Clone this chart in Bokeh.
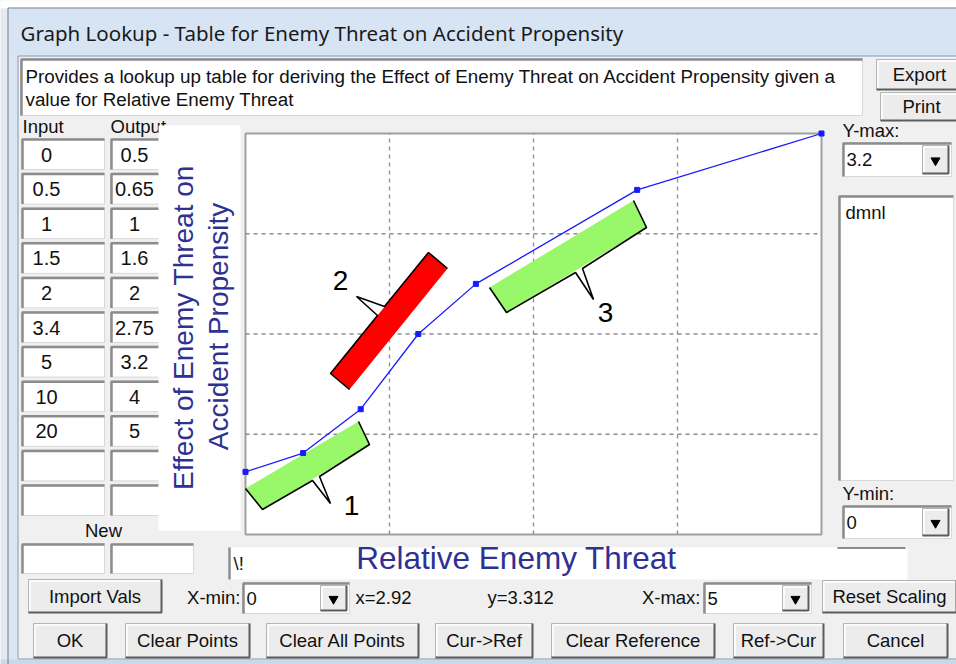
import numpy as np
from bokeh.plotting import figure
from bokeh.models import Range1d
from bokeh.core.properties import value
from bokeh.embed import file_html
from bokeh.resources import INLINE

# ---------------- data ----------------
inputs = [0, 0.5, 1, 1.5, 2, 3.4, 5, 10, 20]
outputs = [0.5, 0.65, 1, 1.6, 2, 2.75, 3.2, 4, 5]
x_min, x_max = 0, 5
y_min, y_max = 0, 3.2
cursor_x, cursor_y = 2.92, 3.312
units = "dmnl"
title = "Graph Lookup - Table for Enemy Threat on Accident Propensity"
description = ["Provides a lookup up table for deriving the Effect of Enemy Threat on Accident Propensity given a",
               "value for Relative Enemy Threat"]
x_label = "Relative Enemy Threat"
y_label = ["Effect of Enemy Threat on", "Accident Propensity"]
callout_labels = ["1", "2", "3"]
row2_buttons = ["OK", "Clear Points", "Clear All Points", "Cur->Ref", "Clear Reference", "Ref->Cur", "Cancel"]

def fmt(v):
    return ("%g" % v)

# ---------------- figure (pixel space of the dialog) ----------------
W, H = 956, 664
p = figure(width=W, height=H, x_range=Range1d(0, W), y_range=Range1d(H, 0),
           output_backend="svg", toolbar_location=None, min_border=0,
           x_axis_type=None, y_axis_type=None)
p.outline_line_color = None
p.background_fill_color = "#f0f0f0"
p.border_fill_color = "#ffffff"

# chart frame in dialog pixels
PL, PR, PT, PB = 245, 821, 133, 534
sx = (PR - PL) / (x_max - x_min)
sy = (PB - PT) / (y_max - y_min)
p.extra_x_ranges = {"cx": Range1d(x_min - PL / sx, x_max + (W - PR) / sx)}
p.extra_y_ranges = {"cy": Range1d(y_min - (H - PB) / sy, y_max + PT / sy)}

UI = "Liberation Sans"
FS = "18.5px"

def txt(x, y, s, size=FS, align="left", color="#111111", font=UI, angle=0.0, baseline="middle"):
    p.text(x=[x], y=[y], text=[s], text_font=value(font), text_font_size=size,
           text_align=align, text_baseline=baseline, text_color=color, angle=angle)

def sunken(x0, x1, y0, y1):
    p.quad(left=x0, right=x1, top=y0, bottom=y1, fill_color="white", line_color="#d8d8d8", line_width=1)
    p.line([x0 + 1, x0 + 1, x1], [y1, y0 + 1, y0 + 1], line_color="#8c8c8c", line_width=2.5)

def button(x0, x1, y0, y1, label=None, size=FS):
    p.quad(left=x0, right=x1, top=y0, bottom=y1, fill_color="#ececec", line_color="#b4b4b4", line_width=1)
    p.line([x0 + 1.5, x0 + 1.5, x1 - 1.5], [y1 - 1.5, y0 + 1.5, y0 + 1.5], line_color="white", line_width=1.5)
    p.line([x0, x1, x1], [y1, y1, y0], line_color="#5c5c5c", line_width=2)
    if label:
        txt((x0 + x1) / 2, (y0 + y1) / 2, label, size=size, align="center")

def combo(x0, x1, y0, y1, val):
    sunken(x0, x1, y0, y1)
    button(x1 - 29, x1 - 3, y0 + 3, y1 - 3)
    p.scatter([x1 - 16], [(y0 + y1) / 2 + 1], marker="inverted_triangle", size=9,
              fill_color="black", line_color="black")
    txt(x0 + 4, (y0 + y1) / 2, val)

# ---------------- window chrome ----------------
p.quad(left=0, right=W, top=0, bottom=8, fill_color="#ffffff", line_color=None)
p.quad(left=0, right=8, top=8, bottom=H, fill_color="#e3eaf2", line_color=None)
p.quad(left=8, right=W, top=8, bottom=56, fill_color="#d6e4f4", line_color=None)
p.quad(left=8, right=18, top=56, bottom=H, fill_color="#dbe6f2", line_color=None)
p.quad(left=0, right=W, top=659, bottom=H, fill_color="#c9d9ec", line_color=None)
p.line([7.5, 7.5, W], [H, 7.5, 7.5], line_color="#6f7b88", line_width=1)
p.line([17.5, 17.5, W], [658, 55.5, 55.5], line_color="#8a9bb0", line_width=1)
p.line([17.5, W], [658.5, 658.5], line_color="#8a9bb0", line_width=1)
txt(20, 32, title, size="20.5px", font="Noto Sans", color="#1a1a1a")

# description box
sunken(20, 862, 58, 115)
txt(25, 76, description[0], size="18.8px")
txt(25, 99, description[1], size="18.8px")
button(876, 962, 59, 89, "Export")
button(880, 962, 92, 120, "Print")

# ---------------- lookup table ----------------
txt(22, 126, "Input")
txt(110, 126, "Output")
for i in range(11):
    top = 138 + i * 34.6
    sunken(21, 104, top, top + 31)
    sunken(110, 193, top, top + 31)
    if i < len(inputs):
        txt(46, top + 16, fmt(inputs[i]), size="20px", align="center")
        txt(134, top + 16, fmt(outputs[i]), size="20px", align="center")
txt(103, 530, "New", align="center")
sunken(21, 104, 543, 573)
sunken(110, 193, 543, 573)

# y label panel
p.quad(left=158, right=240, top=125, bottom=530, fill_color="white", line_color=None)
AX = "#2e3192"
txt(183, 327, y_label[0], size="28px", align="center", color=AX, angle=np.pi / 2)
txt(218, 326, y_label[1], size="28px", align="center", color=AX, angle=np.pi / 2)

# ---------------- chart ----------------
p.quad(left=[x_min], right=[x_max], bottom=[y_min], top=[y_max], x_range_name="cx", y_range_name="cy",
       fill_color="white", line_color="#a0a0a0", line_width=2)
gx = np.linspace(x_min, x_max, 5)[1:-1]
gy = np.linspace(y_min, y_max, 5)[1:-1]
p.segment(x0=gx, x1=gx, y0=[y_min] * 3, y1=[y_max] * 3, x_range_name="cx", y_range_name="cy",
          line_color="#8c8c8c", line_dash="4 4", line_width=1.3)
p.segment(x0=[x_min] * 3, x1=[x_max] * 3, y0=gy, y1=gy, x_range_name="cx", y_range_name="cy",
          line_color="#8c8c8c", line_dash="4 4", line_width=1.3)

# callouts (decoration, dialog pixels)
callouts = [
    dict(front=[(245, 488), (358, 421)], back=[(262, 509), (369, 444)],
         spike=[(312, 480), (330, 503), (319, 476)], fill="#98f86a", label=(351, 505)),
    dict(front=[(349, 389), (447, 268)], back=[(330, 373), (428, 252)],
         spike=[(377, 315), (356, 296), (384, 306)], fill="#ff0000", label=(340, 280)),
    dict(front=[(489, 287), (633, 200)], back=[(506, 312), (646, 227)],
         spike=[(575, 272), (593, 299), (582, 268)], fill="#98f86a", label=(605, 312)),
]
for c, lab in zip(callouts, callout_labels):
    f0, f1 = c["front"]
    b0, b1 = c["back"]
    p.patch([f0[0], f1[0], b1[0], b0[0]], [f0[1], f1[1], b1[1], b0[1]], fill_color=c["fill"], line_color=None)
    a, tip, b = c["spike"]
    pts = [f0, b0, a, tip, b, b1, f1]
    p.line([q[0] for q in pts], [q[1] for q in pts], line_color="black", line_width=1.6)
    txt(c["label"][0], c["label"][1], lab, size="28px", align="center", color="black")

# data line
xs = [x for x in inputs if x_min <= x <= x_max]
ys = [y for x, y in zip(inputs, outputs) if x_min <= x <= x_max]
p.line(xs, ys, x_range_name="cx", y_range_name="cy", line_color="#1a1aff", line_width=1.3)
p.scatter(xs, ys, x_range_name="cx", y_range_name="cy", marker="square", size=5,
          fill_color="#1a1aff", line_color="#1a1aff")

# ---------------- right panel ----------------
txt(842, 130, "Y-max:")
combo(842, 951, 142, 176, fmt(y_max))
sunken(838, 953, 195, 480)
txt(845, 212, units)
txt(842, 493, "Y-min:")
combo(842, 951, 505, 538, fmt(y_min))

# x label field
p.quad(left=228, right=907, top=547, bottom=579, fill_color="white", line_color=None)
p.line([229, 229], [547, 579], line_color="#8c8c8c", line_width=2.5)
p.line([837, 905], [547.5, 547.5], line_color="#8c8c8c", line_width=2)
txt(233, 563, "\\!")
txt(516, 557, x_label, size="31.5px", align="center", color=AX)

# ---------------- bottom controls ----------------
button(28, 161, 579, 612, "Import Vals")
txt(240, 597, "X-min:", align="right")
combo(242, 349, 582, 613, fmt(x_min))
txt(355, 597, "x=%g" % cursor_x)
txt(487, 597, "y=%g" % cursor_y)
txt(700, 597, "X-max:", align="right")
combo(703, 811, 582, 613, fmt(x_max))
button(822, 956, 580, 612, "Reset Scaling")

row2_x = [(33, 106), (125, 249), (266, 418), (435, 532), (551, 714), (733, 823), (843, 947)]
for (x0, x1), lab in zip(row2_x, row2_buttons):
    button(x0, x1, 623, 657, lab)

open("out.html", "w").write(file_html(p, INLINE))
